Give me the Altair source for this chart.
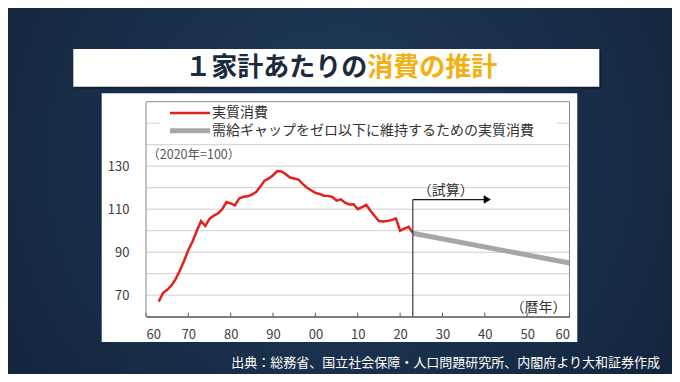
import altair as alt
import pandas as pd

# ---------------- data ----------------
actual_years = list(range(1963, 2024))
actual_values = [
    67.0, 71.0, 72.5, 74.5, 77.5, 81.5, 86.0, 91.0, 95.0, 100.0,      # 1963-1972
    104.5, 102.2, 105.5, 107.0, 108.0, 110.0, 113.3, 112.7, 111.8, 115.0,  # 1973-1982
    115.8, 116.0, 116.8, 118.0, 120.5, 123.3, 124.3, 125.8, 127.7, 127.6,  # 1983-1992
    126.3, 124.7, 124.3, 123.8, 121.8, 120.0, 118.8, 117.6, 117.1, 116.3,  # 1993-2002
    116.2, 115.7, 114.0, 114.6, 113.0, 112.2, 112.3, 110.0, 111.0, 112.0,  # 2003-2012
    109.3, 106.8, 104.5, 104.3, 104.5, 104.9, 105.7, 100.0, 101.0, 101.8,  # 2013-2022
    99.0,                                                                # 2023
]
proj_years = [2023, 2060]
proj_values = [98.8, 85.0]

x_tick_years = [1960, 1970, 1980, 1990, 2000, 2010, 2020, 2030, 2040, 2050, 2060]
y_label_values = [70, 90, 110, 130]
grid_values = [70, 80, 90, 100, 110, 120, 130, 140, 150]

arrow_start_year = [2023]
arrow_end_year = [2040]
arrow_level = [114.5]

legend_labels = ["実質消費", "需給ギャップをゼロ以下に維持するための実質消費"]
title_dark = "１家計あたりの"
title_accent = "消費の推計"
unit_note = "（2020年=100）"
estimate_note = "（試算）"
year_note = "（暦年）"
source_text = "出典：総務省、国立社会保障・人口問題研究所、内閣府より大和証券作成"

# ---------------- layout ----------------
FONT = "Noto Sans CJK JP"
PLOT_W, PLOT_H = 423.5, 215
PAD = {"left": 138, "top": 93.7, "right": 102.5, "bottom": 57.3}

df_actual = pd.DataFrame({"year": actual_years, "value": actual_values})
df_proj = pd.DataFrame({"year": proj_years, "value": proj_values})
df_grid = pd.DataFrame({"value": grid_values})
df_ticks = pd.DataFrame({"year": x_tick_years})
one = pd.DataFrame({"k": [0]})

x_scale = alt.Scale(domain=[1960, 2060], nice=False, zero=False)
y_scale = alt.Scale(domain=[60, 160], nice=False, zero=False)

x_axis = alt.Axis(
    values=x_tick_years,
    labelExpr="(datum.value % 100) < 10 ? '0' + (datum.value % 100) : '' + (datum.value % 100)",
    ticks=False, grid=False, title=None, labelPadding=12,
    domainColor="#5a5a5a", domainWidth=1.2,
    labelFontSize=13, labelColor="#404040", labelFont=FONT, zindex=1,
)
y_axis = alt.Axis(
    values=y_label_values, ticks=False, grid=False, domain=False, title=None,
    labelPadding=17, labelFontSize=13, labelColor="#404040", labelFont=FONT, zindex=1,
)


def X(field="year:Q"):
    return alt.X(field, scale=x_scale, axis=x_axis)


def Y(field="value:Q"):
    return alt.Y(field, scale=y_scale, axis=y_axis)


bg_fill = alt.RadialGradient(
    gradient="radial",
    stops=[alt.GradientStop(color="#203c5c", offset=0),
           alt.GradientStop(color="#0f1f33", offset=1)],
    x1=0.5, y1=0.45, x2=0.5, y2=0.45, r1=0, r2=0.75,
)

background = alt.Chart(one).mark_rect(fill=bg_fill).encode(
    x=alt.value(-PAD["left"]), x2=alt.value(PLOT_W + PAD["right"]),
    y=alt.value(-PAD["top"]), y2=alt.value(PLOT_H + PAD["bottom"]),
)

title_shadow = alt.Chart(one).mark_rect(fill="#000000", opacity=0.25).encode(
    x=alt.value(-71.2), x2=alt.value(455.3), y=alt.value(-51.2), y2=alt.value(-13.0),
)
title_box = alt.Chart(one).mark_rect(fill="white").encode(
    x=alt.value(-72.7), x2=alt.value(453.3), y=alt.value(-52.7), y2=alt.value(-15),
)

panel = alt.Chart(one).mark_rect(fill="white").encode(
    x=alt.value(-44.3), x2=alt.value(431.3), y=alt.value(-8.4), y2=alt.value(240.3),
)

grid = alt.Chart(df_grid).mark_rule(color="#cfcfcf", strokeWidth=1).encode(y=Y())

frame = alt.Chart(one).mark_rect(fillOpacity=0, stroke="#8a8a8a", strokeWidth=1).encode(
    x=alt.value(0), x2=alt.value(PLOT_W), y=alt.value(0), y2=alt.value(PLOT_H),
)

ticks = alt.Chart(df_ticks).mark_rule(color="#5a5a5a", strokeWidth=1).encode(
    x=X(), y=alt.value(PLOT_H), y2=alt.value(PLOT_H - 4),
)

proj_line = alt.Chart(df_proj).mark_line(color="#a6a6a6", strokeWidth=5, strokeCap="butt").encode(
    x=X(), y=Y(),
)
actual_line = alt.Chart(df_actual).mark_line(color="#e2211c", strokeWidth=2.5).encode(
    x=X(), y=Y(),
)

df_vline = pd.DataFrame({"year": arrow_start_year, "value": [60], "value2": arrow_level})
vline = alt.Chart(df_vline).mark_rule(color="#3a3a3a", strokeWidth=1.2).encode(
    x=X(), y=Y(), y2="value2:Q",
)
df_hline = pd.DataFrame({"year": arrow_start_year, "year2": arrow_end_year, "value": arrow_level})
hline = alt.Chart(df_hline).mark_rule(color="#1a1a1a", strokeWidth=1.2).encode(
    x=X(), x2="year2:Q", y=Y(),
)
df_head = pd.DataFrame({"year": [arrow_end_year[0] + 0.6], "value": arrow_level})
head = alt.Chart(df_head).mark_point(shape="triangle-right", filled=True, color="#000000",
                                     size=70, opacity=1).encode(x=X(), y=Y())

df_notes = pd.DataFrame({
    "year": [2030.8, 2052.7],
    "value": [118.6, 64.0],
    "label": [estimate_note, year_note],
})
notes = alt.Chart(df_notes).mark_text(font=FONT, fontSize=14, color="#333333").encode(
    x=X(), y=Y(), text="label:N",
)
df_unit = pd.DataFrame({"year": [1960.3], "value": [135.1], "label": [unit_note]})
unit = alt.Chart(df_unit).mark_text(font=FONT, fontSize=12.5, color="#595959", align="left").encode(
    x=X(), y=Y(), text="label:N",
)

# legend (drawn inside the plot frame)
legend_box = alt.Chart(one).mark_rect(fill="white").encode(
    x=alt.value(14), x2=alt.value(411), y=alt.value(1.5), y2=alt.value(38.3),
)
leg_red = alt.Chart(one).mark_rule(color="#e2211c", strokeWidth=2.5).encode(
    x=alt.value(24), x2=alt.value(64), y=alt.value(11.3),
)
leg_gray = alt.Chart(one).mark_rule(color="#a6a6a6", strokeWidth=5).encode(
    x=alt.value(24), x2=alt.value(64), y=alt.value(29.0),
)
leg_text1 = alt.Chart(one).mark_text(font=FONT, fontSize=14, color="#333333", align="left",
                                     baseline="middle", text=legend_labels[0]).encode(
    x=alt.value(66), y=alt.value(11.2),
)
leg_text2 = alt.Chart(one).mark_text(font=FONT, fontSize=14, color="#333333", align="left",
                                     baseline="middle", text=legend_labels[1]).encode(
    x=alt.value(66), y=alt.value(29.4),
)

title1 = alt.Chart(one).mark_text(font=FONT, fontSize=26, fontWeight="bold", color="#1b2a3d",
                                  align="right", baseline="middle", text=title_dark).encode(
    x=alt.value(221.3), y=alt.value(-33.4),
)
title2 = alt.Chart(one).mark_text(font=FONT, fontSize=26, fontWeight="bold", color="#f3b012",
                                  align="left", baseline="middle", text=title_accent).encode(
    x=alt.value(221.3), y=alt.value(-33.4),
)
source = alt.Chart(one).mark_text(font=FONT, fontSize=13, color="#ffffff",
                                  align="right", baseline="middle", text=source_text).encode(
    x=alt.value(514), y=alt.value(261.6),
)

chart = alt.layer(
    background, title_shadow, title_box, panel, grid,
    actual_line, proj_line, vline, hline, head,
    notes, unit, legend_box, leg_red, leg_gray, leg_text1, leg_text2,
    frame, ticks, title1, title2, source,
).properties(
    width=PLOT_W, height=PLOT_H, padding=PAD,
    autosize=alt.AutoSizeParams(type="none"),
    background="#15283e",
).configure_view(strokeWidth=0).configure(font=FONT)

chart.save("out.html", embed_options={"renderer": "svg", "actions": False})
